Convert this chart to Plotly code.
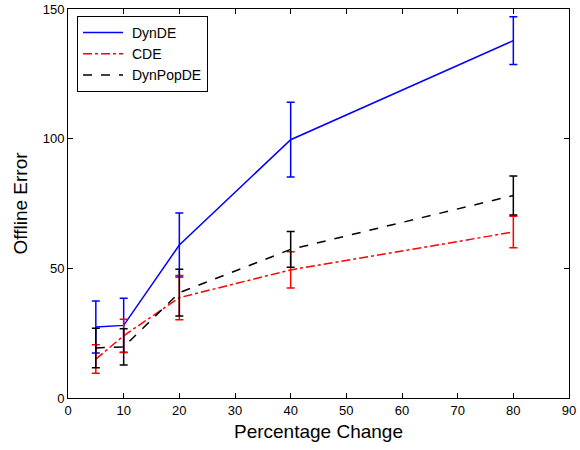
import plotly.graph_objects as go

# Percentage change levels
pct_change = [5, 10, 20, 40, 80]

# Mean offline error and error-bar half-widths per algorithm
dynde_mean = [27.4, 28.0, 59.0, 99.6, 137.8]
dynde_err = [10.0, 10.5, 12.3, 14.4, 9.2]

cde_mean = [15.0, 24.0, 38.7, 49.4, 64.0]
cde_err = [5.5, 6.4, 8.5, 7.0, 6.1]

dynpopde_mean = [19.3, 19.7, 40.6, 57.3, 78.1]
dynpopde_err = [7.6, 7.0, 9.0, 6.9, 7.5]

x_ticks = [0, 10, 20, 30, 40, 50, 60, 70, 80, 90]
y_ticks = [0, 50, 100, 150]

series = [
    ("DynDE", dynde_mean, dynde_err, "#0000ff", "solid"),
    ("CDE", cde_mean, cde_err, "#ff0000", "dashdot"),
    ("DynPopDE", dynpopde_mean, dynpopde_err, "#000000", "dash"),
]

fig = go.Figure()
for name, mean, err, color, dash in series:
    fig.add_trace(go.Scatter(
        x=pct_change, y=mean, name=" " + name, mode="lines",
        line=dict(color=color, width=1.5, dash=dash),
        error_y=dict(type="data", array=err, visible=True,
                     color=color, thickness=1.5, width=4),
    ))

axis_common = dict(
    showgrid=False, zeroline=False, showline=True, linecolor="black",
    linewidth=1, mirror="ticks", ticks="inside", ticklen=5,
    tickcolor="black", tickfont=dict(size=13, color="black"),
    automargin=False,
)

fig.update_layout(
    width=580, height=450,
    margin=dict(l=68, r=11, t=9, b=52),
    paper_bgcolor="white", plot_bgcolor="white",
    font=dict(family="Liberation Sans, Arial, sans-serif", color="black"),
    xaxis=dict(range=[0, 90], tickvals=x_ticks,
               title=dict(text="Percentage Change", font=dict(size=19), standoff=8),
               **axis_common),
    yaxis=dict(range=[0, 150], tickvals=y_ticks,
               title=dict(text="Offline Error", font=dict(size=19), standoff=10),
               **axis_common),
    legend=dict(x=0.018, y=0.982, xanchor="left", yanchor="top",
                bgcolor="white", bordercolor="black", borderwidth=1,
                font=dict(size=14), tracegroupgap=0, itemwidth=40),
    showlegend=True,
)

fig.write_html("out.html")
